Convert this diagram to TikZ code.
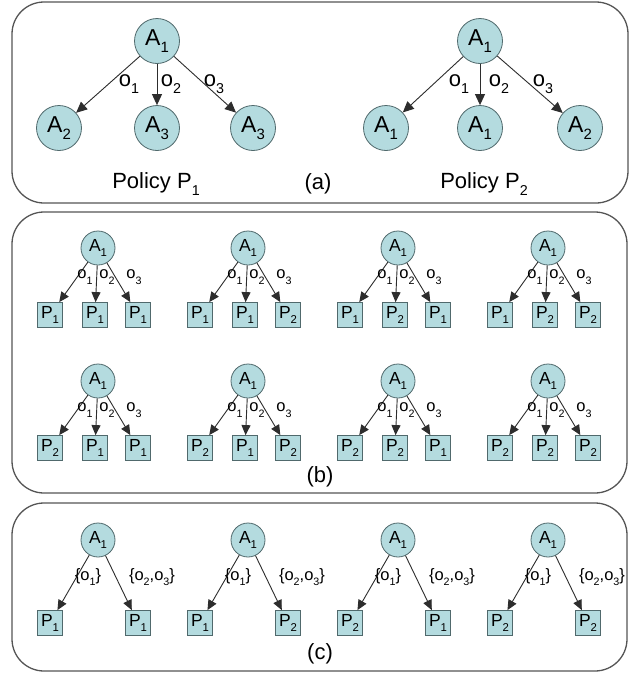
\documentclass[tikz,border=0pt]{standalone}
\usepackage{fontspec}
\setmainfont{Liberation Sans}
\usepackage{graphicx}
\usetikzlibrary{arrows.meta}
\definecolor{nodefill}{RGB}{180,219,223}
\definecolor{nodeline}{RGB}{80,105,108}
\definecolor{boxline}{RGB}{85,85,85}
\definecolor{arrline}{RGB}{45,45,45}
\newcommand\sbs[1]{\raisebox{-0.32em}{\scalebox{0.65}{#1}}}
\begin{document}
\begin{tikzpicture}[x=1pt,y=-1pt,
  panel/.style={draw=boxline, line width=1.3pt, rounded corners=32pt},
  bigc/.style={circle, draw=nodeline, fill=nodefill, line width=0.8pt, minimum size=45pt, inner sep=0pt, font=\fontsize{23}{23}\selectfont},
  smc/.style={circle, draw=nodeline, fill=nodefill, line width=0.8pt, minimum size=34pt, inner sep=0pt, font=\fontsize{17.5}{18}\selectfont},
  sqn/.style={rectangle, draw=nodeline, fill=nodefill, line width=0.8pt, minimum size=25pt, inner sep=0pt, font=\fontsize{17.5}{17}\selectfont},
  biglab/.style={font=\fontsize{22}{22}\selectfont, inner sep=0pt},
  smlab/.style={font=\fontsize{16.5}{16}\selectfont, inner sep=0pt},
  arr/.style={draw=arrline, line width=0.9pt, -{Triangle[length=11pt,width=10pt]}},
  sarr/.style={draw=arrline, line width=0.9pt, -{Triangle[length=10pt,width=9pt]}}]
\useasboundingbox (0,0) rectangle (641,675);
\fill[white] (0,0) rectangle (641,675);
% panels
\draw[panel] (12,2) rectangle (628,203);
\draw[panel] (12,212) rectangle (627,493);
\draw[panel] (12,503) rectangle (627,671);
% ---------------- (a) ----------------
\node[bigc] (pa) at (157,41) {A\sbs{1}};
\node[bigc] (pa1) at (59,128) {A\sbs{2}};
\node[bigc] (pa2) at (157,128) {A\sbs{3}};
\node[bigc] (pa3) at (253,128) {A\sbs{3}};
\draw[arr] (pa) -- (pa1);
\draw[arr] (pa) -- (pa2);
\draw[arr] (pa) -- (pa3);
\node[biglab] (la1) at (129,84) {o\sbs{1}};
\node[biglab] (la2) at (171,84) {o\sbs{2}};
\node[biglab] (la3) at (214,84) {o\sbs{3}};
\node[biglab] (pol1) at (156,184) {Policy P\sbs{1}};
\node[bigc] (qa) at (480,41) {A\sbs{1}};
\node[bigc] (qa1) at (386,128) {A\sbs{1}};
\node[bigc] (qa2) at (480,128) {A\sbs{1}};
\node[bigc] (qa3) at (580,128) {A\sbs{2}};
\draw[arr] (qa) -- (qa1);
\draw[arr] (qa) -- (qa2);
\draw[arr] (qa) -- (qa3);
\node[biglab] (lb1) at (459,84) {o\sbs{1}};
\node[biglab] (lb2) at (499,84) {o\sbs{2}};
\node[biglab] (lb3) at (543,84) {o\sbs{3}};
\node[biglab] (pol2) at (484,184) {Policy P\sbs{2}};
\node[biglab] (capa) at (318,184) {(a)};
% ---------------- (b) ----------------
\foreach \cx/\cy/\a/\b/\c [count=\i] in {98/248/1/1/1, 248/248/1/1/2, 398/248/1/2/1, 548/248/1/2/2,
  98/381/2/1/1, 248/381/2/1/2, 398/381/2/2/1, 548/381/2/2/2} {
  \node[smc] (bt\i) at (\cx,\cy) {A\sbs{1}};
  \node[sqn] (bl\i) at (\cx-48,\cy+67) {P\sbs{\a}};
  \node[sqn] (bm\i) at (\cx-3,\cy+67) {P\sbs{\b}};
  \node[sqn] (br\i) at (\cx+40,\cy+67) {P\sbs{\c}};
  \draw[sarr] (bt\i) -- (bl\i);
  \draw[sarr] (bt\i) -- (bm\i);
  \draw[sarr] (bt\i) -- (br\i);
  \node[smlab] (bo1\i) at (\cx-13,\cy+29) {o\sbs{1}};
  \node[smlab] (bo2\i) at (\cx+9,\cy+29) {o\sbs{2}};
  \node[smlab] (bo3\i) at (\cx+36,\cy+29) {o\sbs{3}};
}
\node[biglab] (capb) at (320,477) {(b)};
% ---------------- (c) ----------------
\foreach \cx/\a/\b [count=\i] in {98/1/1, 248/1/2, 398/2/1, 548/2/2} {
  \node[smc] (ct\i) at (\cx,540) {A\sbs{1}};
  \node[sqn] (cl\i) at (\cx-48,623) {P\sbs{\a}};
  \node[sqn] (cr\i) at (\cx+40,623) {P\sbs{\b}};
  \draw[sarr] (ct\i) -- (cl\i);
  \draw[sarr] (ct\i) -- (cr\i);
  \node[smlab] (co1\i) at (\cx-10,577) {\{o\sbs{1}\}};
  \node[smlab] (co2\i) at (\cx+54,577) {\{o\sbs{2},o\sbs{3}\}};
}
\node[biglab] (capc) at (320,654) {(c)};
\end{tikzpicture}
\end{document}
